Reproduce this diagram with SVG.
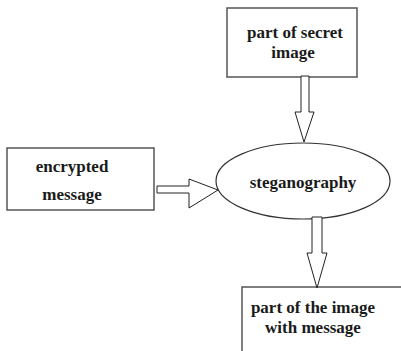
<svg xmlns="http://www.w3.org/2000/svg" width="401" height="351" viewBox="0 0 401 351">
  <style>
    .box { fill: #ffffff; stroke: #555555; stroke-width: 1.5; }
    .oval { fill: #ffffff; stroke: #333333; stroke-width: 1.2; }
    .arrow { fill: #ffffff; stroke: #222222; stroke-width: 1; stroke-linejoin: miter; }
    .label { font-family: "Liberation Serif", "Times New Roman", serif; font-weight: bold; font-size: 17px; fill: #1a1a1a; text-anchor: middle; }
  </style>
  <rect width="401" height="351" fill="#ffffff"/>

  <g id="secret-image">
    <rect class="box" x="227" y="8" width="130" height="69"/>
    <text class="label" x="295" y="38">part of secret</text>
    <text class="label" x="293" y="58">image</text>
  </g>

  <g id="encrypted-message">
    <rect class="box" x="7" y="148" width="147" height="62"/>
    <text class="label" x="72" y="172">encrypted</text>
    <text class="label" x="72" y="200">message</text>
  </g>

  <g id="steganography">
    <ellipse class="oval" cx="303" cy="181" rx="87" ry="38"/>
    <text class="label" x="303" y="188">steganography</text>
  </g>

  <g id="image-with-message">
    <rect class="box" x="242" y="287" width="170" height="80"/>
    <text class="label" x="313" y="313">part of the image</text>
    <text class="label" x="313" y="333">with message</text>
  </g>

  <g id="connectors">
    <!-- secret image down into steganography -->
    <polygon class="arrow" points="301,76 309,76 309,112 314,112 304,142 295,112 301,112"/>
    <!-- encrypted message into steganography -->
    <polygon class="arrow" points="157,186 189,186 189,179 218,190 189,208 189,193 157,193"/>
    <!-- steganography down to the result -->
    <polygon class="arrow" points="312,217 322,217 322,253 327,253 317,288 307,253 312,253"/>
  </g>
</svg>
